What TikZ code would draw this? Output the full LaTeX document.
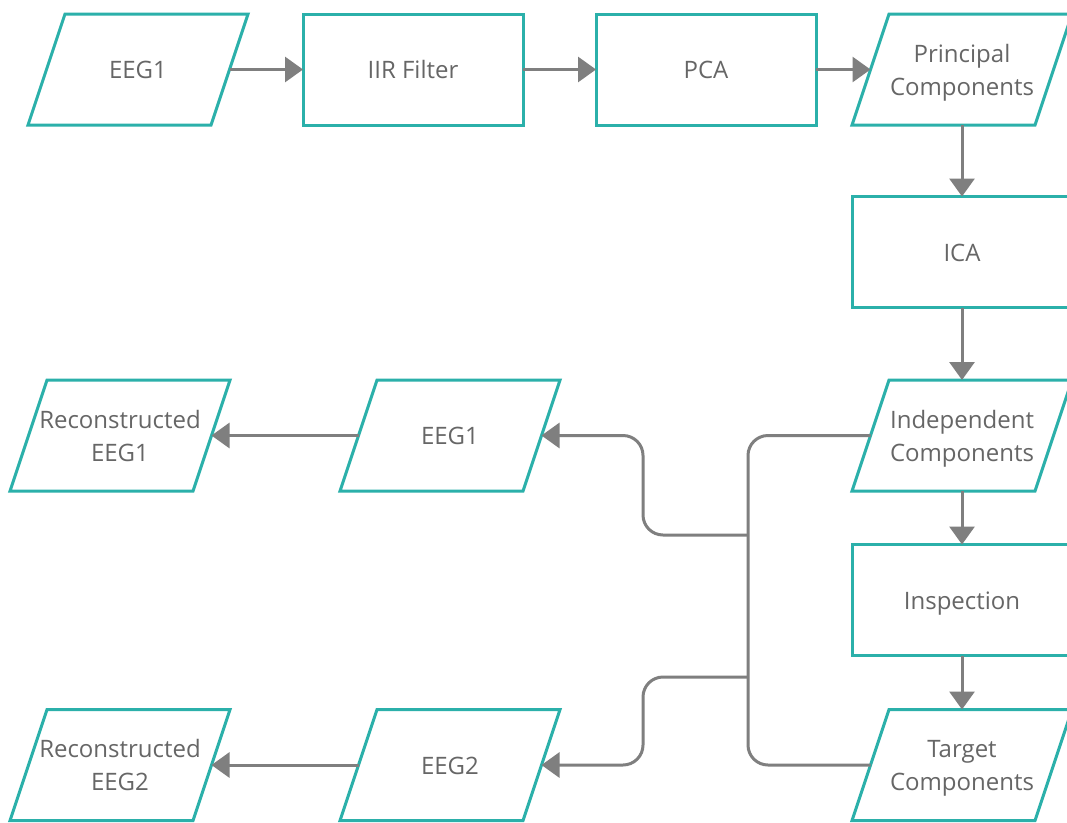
\documentclass[tikz,border=0pt]{standalone}
\usepackage{fontspec}
\setmainfont{Open Sans}
\usetikzlibrary{arrows.meta,calc}
\definecolor{tealb}{HTML}{2BB0AA}
\definecolor{linegray}{HTML}{7F7F7F}
\definecolor{txtgray}{HTML}{666666}
\newcommand\boxtext[1]{\begin{tabular}{@{}c@{}}\rule{0pt}{28pt}#1\end{tabular}}
\tikzset{
  rectbox/.style={draw=tealb, line width=3pt, minimum width=220pt, minimum height=111pt,
    inner sep=0pt, outer sep=0pt, text=txtgray,
    font=\fontsize{24}{33}\selectfont},
  parabox/.style={rectbox, draw=none, minimum width=183pt},
  paraline/.style={draw=tealb, line width=3pt, line join=miter},
  conn/.style={draw=linegray, line width=3pt},
  arr/.style={conn, -{Triangle[length=18pt,width=25pt]}},
  bus/.style={conn, rounded corners=20pt},
}
\newcommand\paraoutline[1]{%
  \draw[paraline] ([shift={(-73,-55.5)}]#1.center) -- ([shift={(110,-55.5)}]#1.center)
    -- ([shift={(73,55.5)}]#1.center) -- ([shift={(-110,55.5)}]#1.center) -- cycle;}
\begin{document}
\begin{tikzpicture}[x=1pt,y=-1pt]
\clip (0,0) rectangle (1067,822);
\fill[white] (0,0) rectangle (1067,822);
% top row
\node[parabox] (eegA) at (138,69.5) {\boxtext{EEG1}};
\node[rectbox] (iir) at (413,69.5) {\boxtext{IIR Filter}};
\node[rectbox] (pca) at (706,69.5) {\boxtext{PCA}};
\node[parabox] (pc) at (962,69.5) {\boxtext{Principal\\Components}};
% right column
\node[rectbox] (ica) at (962,252) {\boxtext{ICA}};
\node[parabox] (ic) at (962,435.5) {\boxtext{Independent\\Components}};
\node[rectbox] (insp) at (962,600) {\boxtext{Inspection}};
\node[parabox] (tc) at (962,765) {\boxtext{Target\\Components}};
% left part
\node[parabox] (eegB) at (450,435.5) {\boxtext{EEG1}};
\node[parabox] (recA) at (120,435.5) {\boxtext{Reconstructed\\EEG1}};
\node[parabox] (eegC) at (450,765) {\boxtext{EEG2}};
\node[parabox] (recB) at (120,765) {\boxtext{Reconstructed\\EEG2}};
\paraoutline{eegA}
\paraoutline{pc}
\paraoutline{ic}
\paraoutline{tc}
\paraoutline{eegB}
\paraoutline{recA}
\paraoutline{eegC}
\paraoutline{recB}
% connectors
\draw[arr] (eegA.east) -- (iir.west);
\draw[arr] (iir.east) -- (pca.west);
\draw[arr] (pca.east) -- (pc.west);
\draw[arr] (pc.south) -- (ica.north);
\draw[arr] (ica.south) -- (ic.north);
\draw[arr] (ic.south) -- (insp.north);
\draw[arr] (insp.south) -- (tc.north);
\coordinate (b1) at (748,535);
\coordinate (b2) at (748,677);
\coordinate (j1) at (643,535);
\coordinate (j2) at (643,677);
\draw[bus] (ic.west) -| (b1) -- (b2) |- (tc.west);
\draw[bus, arr] (b1) -- (j1) |- (eegB.east);
\draw[bus, arr] (b2) -- (j2) |- (eegC.east);
\draw[arr] (eegB.west) -- (recA.east);
\draw[arr] (eegC.west) -- (recB.east);
\end{tikzpicture}
\end{document}
